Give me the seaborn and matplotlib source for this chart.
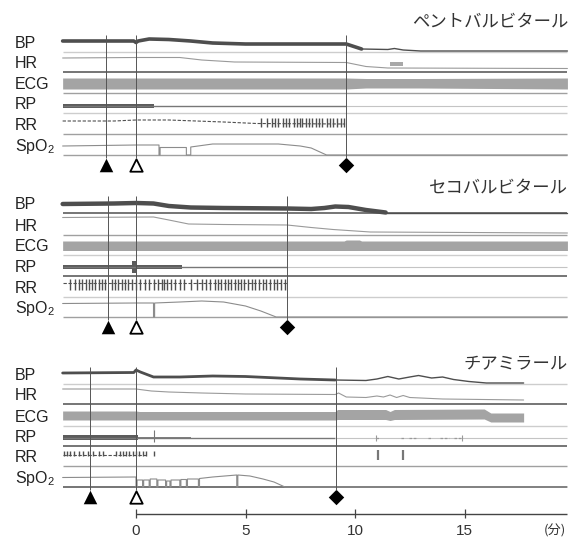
import numpy as np
import matplotlib
matplotlib.use("Agg")
import matplotlib.pyplot as plt
import seaborn as sns

# trace recording span (minutes, 0 = drug injection)
T_START, T_END = -3.35, 19.7
TIME_TICKS = [0, 5, 10, 15]
CHANNELS = ["BP", "HR", "ECG", "RP", "RR", "SpO$_2$"]
DRUGS = ["ペントバルビタール", "セコバルビタール", "チアミラール"]

# event times: filled triangle, open triangle, diamond
PENTO_EVENTS = [-1.35, 0.0, 9.6]
SECO_EVENTS = [-1.3, 0.0, 6.9]
THIA_EVENTS = [-2.1, 0.0, 9.15]

# trace levels are deflections above each row's base line
# --- pentobarbital
PENTO_BP_T = [-3.35, -0.1, 0.0, 0.1, 0.6, 1.5, 2.5, 3.5, 5.0, 9.6, 10.3, 11.5, 11.8, 12.2, 13.0, 19.7]
PENTO_BP_H = [11, 11, 9.5, 11, 13, 12.5, 11, 9, 8, 8, 3, 2.5, 3.5, 2, 1, 1]
PENTO_BP_THICK = 10.3
PENTO_HR_T = [-3.35, 0.0, 2.0, 3.0, 4.5, 9.6, 10.5, 11.5, 19.7]
PENTO_HR_H = [14, 14.5, 14.5, 12, 10, 9.5, 5.5, 4, 3.5]
PENTO_HR_BLOCK = [11.6, 12.2]
PENTO_ECG_T = [-3.35, 9.6, 10.5, 13.0, 19.7]
PENTO_ECG_TOP = [15, 15, 14.5, 14.5, 15]
PENTO_ECG_BOT = [4, 4, 5, 5, 4]
PENTO_RP_H = 7
PENTO_RP_BAND = [-3.35, 0.8]
PENTO_RP_END = 9.6
PENTO_RR_T = [-3.35, -1.0, 0.0, 1.5, 4.0, 5.5, 9.55]
PENTO_RR_H = [13, 13, 14, 14, 12, 10.5, 10]
PENTO_RR_TICKS = [5.7, 6.0, 6.2, 6.35, 6.5, 6.7, 6.85, 7.0, 7.2, 7.35, 7.5, 7.6,
                  7.75, 7.9, 8.05, 8.2, 8.35, 8.5, 8.7, 8.85, 9.0, 9.2, 9.35, 9.5]
PENTO_RR_SPAN = [7, 16]
PENTO_SPO2_T = [-3.35, 0.0, 1.05, 1.05, 1.1, 1.1, 2.3, 2.3, 2.5, 2.5, 3.5, 5.5, 6.5, 7.5, 8.0, 8.7, 19.7]
PENTO_SPO2_H = [9, 10, 10, 0, 0, 7.5, 7.5, 0, 0, 8, 11, 11, 11, 9, 7, 0, 0]

# --- secobarbital
SECO_BP_T = [-3.35, -1.0, 0.0, 0.8, 1.5, 2.5, 4.0, 6.9, 8.0, 8.6, 9.1, 9.7, 10.5, 11.4, 19.7]
SECO_BP_H = [9, 9.5, 10, 9.5, 7, 5.5, 5, 4.5, 4, 5, 6.5, 6, 3, 0.5, 0.5]
SECO_BP_THICK = 11.4
SECO_HR_T = [-3.35, 0.8, 1.5, 2.4, 4.0, 6.9, 8.0, 9.0, 10.7, 19.7]
SECO_HR_H = [17.5, 18, 15, 11, 10.5, 10, 7.5, 5.5, 3, 2]
SECO_ECG_T = [-3.35, 9.5, 9.6, 10.2, 10.3, 19.7]
SECO_ECG_TOP = [14, 14, 15, 15, 14, 14]
SECO_ECG_BOT = [4.5, 4.5, 4.5, 4.5, 4.5, 4.5]
SECO_RP_H = 9
SECO_RP_BAND = [-3.35, 2.1]
SECO_RP_SPIKE = [-0.2, 0.0]
SECO_RP_END = 6.9
SECO_RR_T = [-3.35, 6.9]
SECO_RR_H = [14, 14]
SECO_RR_TICKS = [-3.0, -2.8, -2.6, -2.45, -2.3, -2.15, -2.0, -1.85, -1.7, -1.55, -1.4,
                 -1.1, -0.95, -0.8, -0.65, -0.5, -0.35, -0.2, 0.0, 0.2, 0.4, 0.6, 0.8,
                 1.0, 1.2, 1.3, 1.4, 1.6, 1.8, 2.0, 2.2, 2.5, 2.8, 3.0, 3.2, 3.4, 3.6,
                 3.75, 3.9, 4.05, 4.2, 4.35, 4.5, 4.65, 4.8, 4.95, 5.1, 5.3, 5.45, 5.6,
                 5.8, 5.95, 6.1, 6.3, 6.45, 6.6, 6.8]
SECO_RR_SPAN = [7, 18]
SECO_SPO2_T = [-3.35, 0.0, 0.8, 0.8, 0.85, 0.85, 2.0, 3.0, 4.0, 5.0, 5.7, 6.4, 19.7]
SECO_SPO2_H = [13.5, 14, 14, 0, 0, 14, 15, 16, 15, 11, 6, 0, 0]

# --- thiamylal
THIA_BP_T = [-3.35, -0.1, 0.0, 0.2, 0.8, 2.0, 3.5, 5.0, 6.5, 7.5, 9.1, 10.5, 11.0, 11.5,
             12.0, 12.5, 12.9, 13.5, 14.0, 14.5, 15.2, 16.0, 17.7]
THIA_BP_H = [11, 11.5, 14, 12, 7, 7, 8, 7.5, 6, 5, 4, 3.5, 5, 7.5, 5, 7, 8.5, 6, 7, 4.5, 2.5, 1, 1]
THIA_BP_THICK = 9.1
THIA_HR_T = [-3.35, 0.0, 0.7, 1.5, 3.0, 5.0, 9.1, 9.25, 9.6, 10.5, 11.0, 11.3, 11.6, 11.9,
             12.2, 12.5, 13.0, 14.0, 17.7]
THIA_HR_H = [15, 15, 13, 12, 11, 10, 9.5, 11, 7, 6.5, 8, 7, 9, 6.5, 8.5, 6.5, 6, 5, 4]
THIA_ECG_T = [-3.35, 0.0, 0.15, 9.1, 9.2, 11.4, 11.6, 11.8, 15.9, 16.2, 17.7]
THIA_ECG_TOP = [15, 15, 14.5, 14.5, 16.5, 16.5, 14.5, 16.5, 17, 13, 13]
THIA_ECG_BOT = [6, 6, 6, 6, 6.5, 6.5, 5.5, 6.5, 7, 4, 4]
THIA_RP_H = 8
THIA_RP_BAND = [-3.35, 0.1]
THIA_RP_BAND2 = [0.1, 2.5]
THIA_RP_END = 9.1
THIA_RP_FRAGS = [[10.95, 11.1], [12.1, 12.25], [12.45, 12.8], [13.35, 13.5], [13.9, 14.3], [14.5, 14.9]]
THIA_RR_T = [-3.35, 0.5]
THIA_RR_H = [11, 11]
THIA_RR_TICKS = [-3.3, -3.15, -3.0, -2.85, -2.6, -2.4, -2.2, -1.95, -1.7, -1.5, -0.9, -0.75,
                 -0.6, -0.45, -0.3, -0.15, 0.0, 0.15, 0.3, 0.45, 0.8]
THIA_RR_SPAN = [10, 15]
THIA_RR_LATE = [11.05, 12.2]
THIA_SPO2_T = [-3.35, -0.05, 0.0, 0.0, 0.05, 0.05, 0.3, 0.3, 0.35, 0.35, 0.6, 0.6, 0.65, 0.65,
               0.95, 0.95, 1.0, 1.0, 1.35, 1.35, 1.4, 1.4, 1.55, 1.55, 1.6, 1.6, 2.0, 2.0,
               2.05, 2.05, 2.3, 2.3, 2.35, 2.35, 2.85, 2.85, 2.9, 2.9, 3.5, 4.6, 4.6, 4.65,
               4.65, 5.2, 5.8, 6.3, 6.8, 19.7]
THIA_SPO2_H = [9.5, 10, 10, 0, 0, 7, 7, 0, 0, 7, 7, 0, 0, 8, 8, 0, 0, 7, 7, 0, 0, 6, 6, 0,
               0, 7, 7, 0, 0, 7.5, 7.5, 0, 0, 8, 8, 0, 0, 8.5, 10, 12, 0, 0, 12, 11, 8, 5, 0, 0]

# layout (pixel rows of the figure)
PANEL_BASE = [[52, 72, 93, 113, 134, 155], [213, 235, 255, 276, 297, 317], [384, 404, 426, 446, 466, 487]]
TITLE_Y = [22, 188, 364]
AXIS_Y = 514
PX0, PX_PER_MIN = 136, 21.9

LIGHT, MID, DARK = "#cdcdcd", "#a0a0a0", "#6a6a6a"
SEP_COLORS = [[LIGHT, DARK, MID, LIGHT, MID, MID],
              [DARK, MID, LIGHT, DARK, LIGHT, MID],
              [LIGHT, DARK, LIGHT, DARK, MID, DARK]]
BP_C, HR_C, ECG_C, RP_C, RR_C, SPO2_C = "#4e4e4e", "#9a9a9a", "#a4a4a4", "#5c5c5c", "#505050", "#8c8c8c"

sns.set_theme(style="white")
plt.rcParams["font.family"] = ["Liberation Sans", "Noto Sans CJK JP", "DejaVu Sans"]
plt.rcParams["mathtext.default"] = "regular"

fig = plt.figure(figsize=(5.79, 5.37), dpi=100)
ax = fig.add_axes([0, 0, 1, 1])
ax.set_xlim(-PX0 / PX_PER_MIN, (579 - PX0) / PX_PER_MIN)
ax.set_ylim(537, 0)
ax.axis("off")
ytr = ax.get_yaxis_transform()


def line(t, y, color, lw, ls="-"):
    sns.lineplot(x=list(t), y=list(y), ax=ax, color=color, linewidth=lw, linestyle=ls,
                 estimator=None, sort=False, errorbar=None, legend=False)


def trace(base, t, h, color, lw, ls="-"):
    line(t, base - np.asarray(h, float), color, lw, ls)


def band(base, t, top, bot, color):
    ax.fill_between(t, base - np.asarray(top, float), base - np.asarray(bot, float), color=color, lw=0)


def bp_trace(base, t, h, t_thick, lw_thick):
    t = np.asarray(t, float)
    y = base - np.asarray(h, float)
    k = np.searchsorted(t, t_thick, side="right")
    line(t[:k], y[:k], BP_C, lw_thick)
    line(t[k - 1:], y[k - 1:], BP_C, 1.0)


panels = [
    dict(events=PENTO_EVENTS, bp=(PENTO_BP_T, PENTO_BP_H, PENTO_BP_THICK, 2.6),
         hr=(PENTO_HR_T, PENTO_HR_H), ecg=(PENTO_ECG_T, PENTO_ECG_TOP, PENTO_ECG_BOT),
         rp=(PENTO_RP_H, PENTO_RP_BAND, (5, 9.5), PENTO_RP_END),
         rr=(PENTO_RR_T, PENTO_RR_H, PENTO_RR_TICKS, PENTO_RR_SPAN),
         spo2=(PENTO_SPO2_T, PENTO_SPO2_H)),
    dict(events=SECO_EVENTS, bp=(SECO_BP_T, SECO_BP_H, SECO_BP_THICK, 3.2),
         hr=(SECO_HR_T, SECO_HR_H), ecg=(SECO_ECG_T, SECO_ECG_TOP, SECO_ECG_BOT),
         rp=(SECO_RP_H, SECO_RP_BAND, (7, 11), SECO_RP_END),
         rr=(SECO_RR_T, SECO_RR_H, SECO_RR_TICKS, SECO_RR_SPAN),
         spo2=(SECO_SPO2_T, SECO_SPO2_H)),
    dict(events=THIA_EVENTS, bp=(THIA_BP_T, THIA_BP_H, THIA_BP_THICK, 2.0),
         hr=(THIA_HR_T, THIA_HR_H), ecg=(THIA_ECG_T, THIA_ECG_TOP, THIA_ECG_BOT),
         rp=(THIA_RP_H, THIA_RP_BAND, (6, 11), THIA_RP_END),
         rr=(THIA_RR_T, THIA_RR_H, THIA_RR_TICKS, THIA_RR_SPAN),
         spo2=(THIA_SPO2_T, THIA_SPO2_H)),
]

for i, p in enumerate(panels):
    base = PANEL_BASE[i]
    # row separators and channel labels
    for j, (b, c) in enumerate(zip(base, SEP_COLORS[i])):
        ax.hlines(b, T_START, T_END, color=c, lw=1.3 if c == DARK else 1.0)
        ax.text(15 / 579, b - 8.5, CHANNELS[j], transform=ytr, ha="left", va="center",
                fontsize=11.5, color="#222222")
    ax.text(568 / 579, TITLE_Y[i], DRUGS[i], transform=ytr, ha="right", va="center",
            fontsize=12.5, color="#333333", family=["Noto Sans CJK JP", "DejaVu Sans"])

    t, h, t_thick, lw_thick = p["bp"]
    bp_trace(base[0], t, h, t_thick, lw_thick)
    trace(base[1], *p["hr"], HR_C, 0.8)
    band(base[2], *p["ecg"], ECG_C)

    rp_h, rp_band, rp_w, rp_end = p["rp"]
    ax.hlines(base[3] - rp_h, T_START, rp_end, color="#777777", lw=1.0)
    ax.hlines(base[3] - rp_h, rp_end, T_END, color="#c4c4c4", lw=0.8)
    band(base[3], rp_band, [rp_w[1]] * 2, [rp_w[0]] * 2, RP_C)

    rr_t, rr_h, rr_ticks, rr_span = p["rr"]
    trace(base[4], rr_t, rr_h, RR_C, 0.8, (0, (3, 1.5)))
    ax.vlines(rr_ticks, base[4] - rr_span[1], base[4] - rr_span[0], color=RR_C, lw=1.0)

    trace(base[5], *p["spo2"], SPO2_C, 0.8)

    # event markers with their vertical guide lines
    top, bottom = base[0] - 17, base[5] + 3
    mark_y = base[5] + 10
    ax.vlines(p["events"], top, bottom, color="#555555", lw=0.7)
    sns.scatterplot(x=[p["events"][0]], y=[mark_y], ax=ax, marker="^", s=95, color="black", linewidth=0)
    sns.scatterplot(x=[p["events"][1]], y=[mark_y], ax=ax, marker="^", s=80, color="white",
                    edgecolor="black", linewidth=1.3)
    sns.scatterplot(x=[p["events"][2]], y=[mark_y], ax=ax, marker="D", s=62, color="black", linewidth=0)

# drug-specific details
b = PANEL_BASE[0]
ax.fill_between(PENTO_HR_BLOCK, b[1] - 10, b[1] - 6, color="#a8a8a8", lw=0)
b = PANEL_BASE[1]
band(b[3], SECO_RP_SPIKE, [15, 15], [3, 3], RP_C)
b = PANEL_BASE[2]
band(b[3], THIA_RP_BAND2, [9.5, 9.5], [7, 7], "#808080")
ax.vlines(0.82, b[3] - 16, b[3] - 4, color="#777777", lw=0.8)
ax.hlines([b[3] - THIA_RP_H] * len(THIA_RP_FRAGS), [f[0] for f in THIA_RP_FRAGS],
          [f[1] for f in THIA_RP_FRAGS], color="#999999", lw=0.9, linestyles=(0, (2, 1.5)))
ax.vlines([THIA_RP_FRAGS[0][0], THIA_RP_FRAGS[-1][1]], b[3] - THIA_RP_H - 3, b[3] - THIA_RP_H + 3,
          color="#999999", lw=0.8)
ax.vlines(THIA_RR_LATE, b[4] - 16, b[4] - 6, color="#777777", lw=1.6)

# time axis
ax.hlines(AXIS_Y, 0, T_END, color="#444444", lw=1.0)
ax.vlines(TIME_TICKS, AXIS_Y - 5, AXIS_Y + 4, color="#444444", lw=0.9)
for tk in TIME_TICKS:
    ax.text(tk, AXIS_Y + 17, str(tk), ha="center", va="center", fontsize=11, color="#333333")
ax.text(555 / 579, AXIS_Y + 17, "(分)", transform=ytr, ha="center", va="center", fontsize=9.5,
        color="#333333", family=["Noto Sans CJK JP", "DejaVu Sans"])

fig.savefig("out.png", dpi=100)
